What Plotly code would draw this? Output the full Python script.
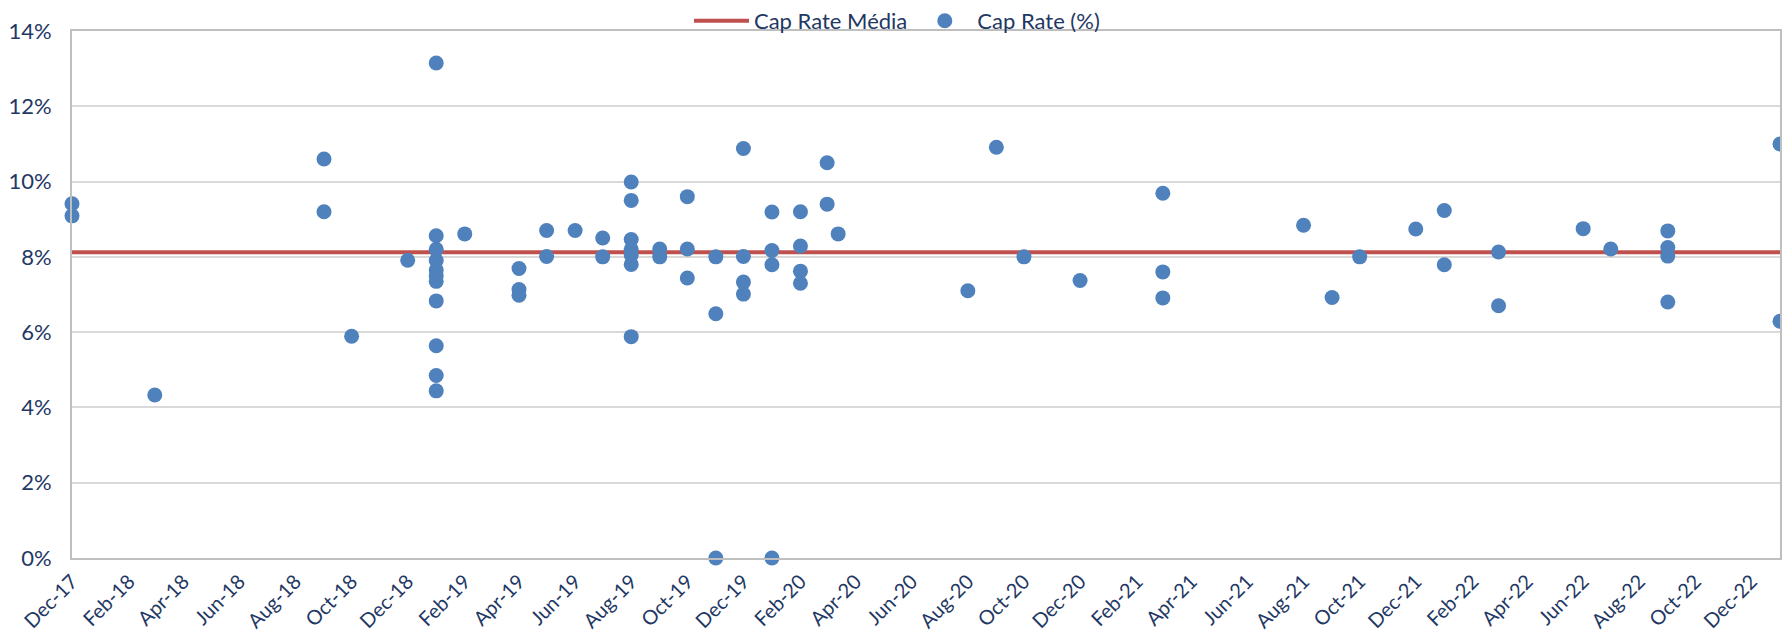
import plotly.graph_objects as go

# ---- data ----
dates = [
    "2017-12-01", "2017-12-01",
    "2018-03-01",
    "2018-09-01", "2018-09-01",
    "2018-10-01",
    "2018-12-01",
    "2019-01-01", "2019-01-01", "2019-01-01", "2019-01-01", "2019-01-01", "2019-01-01",
    "2019-01-01", "2019-01-01", "2019-01-01", "2019-01-01", "2019-01-01",
    "2019-02-01",
    "2019-04-01", "2019-04-01", "2019-04-01",
    "2019-05-01", "2019-05-01",
    "2019-06-01",
    "2019-07-01", "2019-07-01",
    "2019-08-01", "2019-08-01", "2019-08-01", "2019-08-01", "2019-08-01", "2019-08-01", "2019-08-01",
    "2019-09-01", "2019-09-01",
    "2019-10-01", "2019-10-01", "2019-10-01",
    "2019-11-01", "2019-11-01", "2019-11-01",
    "2019-12-01", "2019-12-01", "2019-12-01", "2019-12-01",
    "2020-01-01", "2020-01-01", "2020-01-01", "2020-01-01",
    "2020-02-01", "2020-02-01", "2020-02-01", "2020-02-01",
    "2020-03-01", "2020-03-01",
    "2020-03-13",
    "2020-08-01",
    "2020-09-01",
    "2020-10-01",
    "2020-12-01",
    "2021-03-01", "2021-03-01", "2021-03-01",
    "2021-08-01",
    "2021-09-01",
    "2021-10-01",
    "2021-12-01",
    "2022-01-01", "2022-01-01",
    "2022-03-01", "2022-03-01",
    "2022-06-01",
    "2022-07-01",
    "2022-09-01", "2022-09-01", "2022-09-01", "2022-09-01",
    "2023-01-01", "2023-01-01",
]
cap_rate = [
    9.41, 9.09,
    4.33,
    10.60, 9.20,
    5.89,
    7.91,
    13.15, 8.56, 8.20, 7.90, 7.65, 7.50,
    7.35, 6.83, 5.64, 4.85, 4.44,
    8.61,
    7.69, 7.13, 6.98,
    8.70, 8.01,
    8.70,
    8.50, 8.00,
    9.99, 9.50, 8.46, 8.20, 8.05, 7.80, 5.88,
    8.21, 8.00,
    9.60, 8.21, 7.44,
    8.00, 6.49, 0.00,
    10.88, 8.01, 7.33, 7.01,
    9.19, 8.17, 7.79, 0.00,
    9.20, 8.29, 7.62, 7.30,
    10.50, 9.40,
    8.61,
    7.10,
    10.91,
    8.00,
    7.37,
    9.69, 7.60, 6.91,
    8.84,
    6.92,
    8.00,
    8.74,
    9.23, 7.79,
    8.13, 6.70,
    8.75,
    8.21,
    8.69, 8.25, 8.02, 6.80,
    11.00, 6.29,
]
avg_cap_rate = 8.12
avg_dates = ["2017-12-01", "2023-01-01"]

tick_dates = [
    "2017-12-01", "2018-02-01", "2018-04-01", "2018-06-01", "2018-08-01", "2018-10-01",
    "2018-12-01", "2019-02-01", "2019-04-01", "2019-06-01", "2019-08-01", "2019-10-01",
    "2019-12-01", "2020-02-01", "2020-04-01", "2020-06-01", "2020-08-01", "2020-10-01",
    "2020-12-01", "2021-02-01", "2021-04-01", "2021-06-01", "2021-08-01", "2021-10-01",
    "2021-12-01", "2022-02-01", "2022-04-01", "2022-06-01", "2022-08-01", "2022-10-01",
    "2022-12-01",
]
tick_labels = [
    "Dec-17", "Feb-18", "Apr-18", "Jun-18", "Aug-18", "Oct-18",
    "Dec-18", "Feb-19", "Apr-19", "Jun-19", "Aug-19", "Oct-19",
    "Dec-19", "Feb-20", "Apr-20", "Jun-20", "Aug-20", "Oct-20",
    "Dec-20", "Feb-21", "Apr-21", "Jun-21", "Aug-21", "Oct-21",
    "Dec-21", "Feb-22", "Apr-22", "Jun-22", "Aug-22", "Oct-22",
    "Dec-22",
]
y_ticks = [0, 2, 4, 6, 8, 10, 12, 14]

TEXT = "#1F3864"
FONT = "Lato"

fig = go.Figure()
fig.add_trace(go.Scatter(
    x=avg_dates, y=[avg_cap_rate] * len(avg_dates), mode="lines",
    name="Cap Rate Média", line=dict(color="#C0504D", width=4),
    cliponaxis=False,
))
fig.add_trace(go.Scatter(
    x=dates, y=cap_rate, mode="markers", name="Cap Rate (%)",
    marker=dict(color="#4F81BD", size=15, line=dict(width=0)),
    cliponaxis=False,
))

fig.update_layout(
    width=1782, height=631,
    margin=dict(l=64, r=10, t=23, b=81, autoexpand=False),
    paper_bgcolor="white", plot_bgcolor="white",
    font=dict(family=FONT, size=22, color=TEXT),
    showlegend=True,
    legend=dict(
        orientation="h", x=0.483, xanchor="center",
        y=1.019, yanchor="middle",
        font=dict(family=FONT, size=22, color=TEXT),
        itemwidth=55, bgcolor="rgba(0,0,0,0)",
    ),
)
fig.update_xaxes(
    type="date", range=["2017-12-01", "2023-01-01"],
    tickmode="array", tickvals=tick_dates, ticktext=tick_labels,
    tickangle=-45, tickfont=dict(family=FONT, size=20, color=TEXT),
    showgrid=False, zeroline=False, automargin=False,
    showline=True, linecolor="#BFBFBF", linewidth=2, mirror=True,
    ticks="", ticklen=0, ticklabelstandoff=2,
)
fig.update_yaxes(
    range=[0, 14], tickmode="array", tickvals=y_ticks,
    ticktext=[f"{v}%" for v in y_ticks],
    tickfont=dict(family=FONT, size=22, color=TEXT),
    showgrid=True, gridcolor="#D9D9D9", gridwidth=2,
    zeroline=False, automargin=False,
    showline=True, linecolor="#BFBFBF", linewidth=2, mirror=True,
    ticks="", ticklabelstandoff=14,
)

fig.write_html("out.html")
